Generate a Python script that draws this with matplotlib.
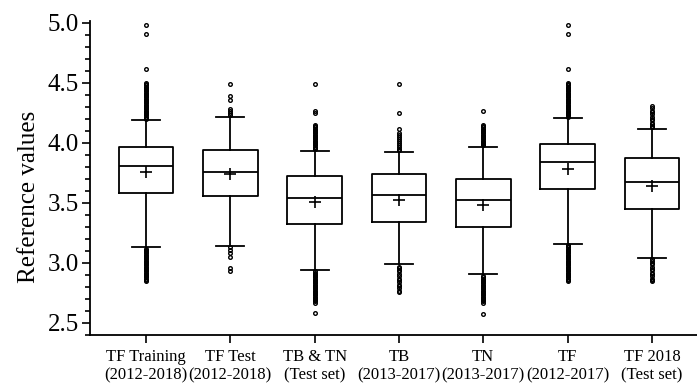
import numpy as np
import matplotlib
matplotlib.use("Agg")
import matplotlib.pyplot as plt
from matplotlib.ticker import MultipleLocator

plt.rcParams['font.family'] = ['Liberation Serif', 'DejaVu Serif']

labels = ['TF Training\n(2012-2018)', 'TF Test\n(2012-2018)', 'TB & TN\n(Test set)',
          'TB\n(2013-2017)', 'TN\n(2013-2017)', 'TF\n(2012-2017)', 'TF 2018\n(Test set)']

q1 = [3.580, 3.555, 3.328, 3.340, 3.302, 3.620, 3.453]
med = [3.805, 3.757, 3.544, 3.564, 3.525, 3.839, 3.678]
q3 = [3.967, 3.940, 3.725, 3.739, 3.700, 3.990, 3.878]
means = [3.755, 3.745, 3.511, 3.522, 3.486, 3.786, 3.644]
whis_lo = [3.133, 3.142, 2.945, 2.990, 2.905, 3.161, 3.042]
whis_hi = [4.190, 4.213, 3.936, 3.927, 3.967, 4.205, 4.119]

# outliers (dense columns approximated point by point)
fliers_1 = [4.20, 4.21, 4.22, 4.23, 4.24, 4.25, 4.26, 4.27, 4.28, 4.29, 4.30, 4.31, 4.32,
            4.33, 4.34, 4.35, 4.36, 4.37, 4.38, 4.39, 4.40, 4.41, 4.42, 4.43, 4.44, 4.45,
            4.46, 4.47, 4.48, 4.49, 4.50, 4.62, 4.91, 4.98,
            3.12, 3.11, 3.10, 3.09, 3.08, 3.07, 3.06, 3.05, 3.04, 3.03, 3.02, 3.01, 3.00,
            2.99, 2.98, 2.97, 2.96, 2.95, 2.94, 2.93, 2.92, 2.91, 2.90, 2.89, 2.88, 2.87,
            2.86, 2.85]
fliers_2 = [4.23, 4.25, 4.27, 4.28, 4.36, 4.39, 4.49,
            3.13, 3.11, 3.08, 3.05, 2.96, 2.93]
fliers_3 = [3.95, 3.96, 3.97, 3.98, 3.99, 4.00, 4.01, 4.02, 4.03, 4.04, 4.05, 4.06, 4.07,
            4.08, 4.09, 4.10, 4.11, 4.12, 4.13, 4.14, 4.15, 4.25, 4.27, 4.49,
            2.93, 2.92, 2.91, 2.90, 2.89, 2.88, 2.87, 2.86, 2.85, 2.84, 2.83, 2.82, 2.81,
            2.80, 2.79, 2.78, 2.77, 2.76, 2.75, 2.74, 2.73, 2.72, 2.71, 2.70, 2.69, 2.68,
            2.67, 2.58]
fliers_4 = [3.94, 3.95, 3.97, 3.98, 4.00, 4.02, 4.03, 4.05, 4.07, 4.08, 4.12, 4.25, 4.49,
            2.97, 2.96, 2.94, 2.93, 2.91, 2.89, 2.87, 2.86, 2.84, 2.82, 2.81, 2.79, 2.77,
            2.76]
fliers_5 = [3.98, 3.99, 4.00, 4.01, 4.02, 4.03, 4.04, 4.05, 4.06, 4.07, 4.08, 4.09, 4.10,
            4.11, 4.12, 4.13, 4.14, 4.15, 4.27,
            2.89, 2.88, 2.87, 2.86, 2.85, 2.84, 2.83, 2.82, 2.81, 2.80, 2.79, 2.78, 2.77,
            2.76, 2.75, 2.74, 2.73, 2.72, 2.71, 2.70, 2.69, 2.68, 2.67, 2.575]
fliers_6 = [4.22, 4.23, 4.24, 4.25, 4.26, 4.27, 4.28, 4.29, 4.30, 4.31, 4.32, 4.33, 4.34,
            4.35, 4.36, 4.37, 4.38, 4.39, 4.40, 4.41, 4.42, 4.43, 4.44, 4.45, 4.46, 4.47,
            4.48, 4.49, 4.50, 4.62, 4.91, 4.98,
            3.15, 3.14, 3.13, 3.12, 3.11, 3.10, 3.09, 3.08, 3.07, 3.06, 3.05, 3.04, 3.03,
            3.02, 3.01, 3.00, 2.99, 2.98, 2.97, 2.96, 2.95, 2.94, 2.93, 2.92, 2.91, 2.90,
            2.89, 2.88, 2.87, 2.86, 2.85]
fliers_7 = [4.13, 4.14, 4.16, 4.17, 4.19, 4.20, 4.22, 4.24, 4.26, 4.27, 4.29, 4.31,
            3.03, 3.02, 3.00, 2.99, 2.97, 2.95, 2.94, 2.92, 2.91, 2.89, 2.87, 2.86, 2.85]
fliers = [fliers_1, fliers_2, fliers_3, fliers_4, fliers_5, fliers_6, fliers_7]

stats = []
for i in range(len(labels)):
    stats.append(dict(label=labels[i], q1=q1[i], med=med[i], q3=q3[i], mean=means[i],
                      whislo=whis_lo[i], whishi=whis_hi[i], fliers=fliers[i]))

fig = plt.figure(figsize=(6.97, 3.89), dpi=100)
ax = fig.add_axes([90 / 697, 54 / 389, 607 / 697, 314.4 / 389])

lw = 1.3
ax.bxp(stats, positions=np.arange(1, 8), widths=0.65, showmeans=True, showfliers=True,
       boxprops=dict(color='black', linewidth=lw),
       medianprops=dict(color='black', linewidth=lw),
       whiskerprops=dict(color='black', linewidth=lw),
       capprops=dict(color='black', linewidth=lw),
       capwidths=0.33,
       meanprops=dict(marker='+', markersize=9, markeredgecolor='black', markeredgewidth=1.2),
       flierprops=dict(marker='o', markersize=2.6, markerfacecolor='none',
                       markeredgecolor='black', markeredgewidth=1.0))

ax.set_xlim(0.336, 7.534)
ax.set_ylim(2.4, 5.02)
ax.yaxis.set_major_locator(MultipleLocator(0.5))
ax.yaxis.set_minor_locator(MultipleLocator(0.1))
ax.yaxis.set_major_formatter(plt.FormatStrFormatter('%.1f'))

for s in ['top', 'right']:
    ax.spines[s].set_visible(False)
for s in ['left', 'bottom']:
    ax.spines[s].set_linewidth(1.3)

ax.tick_params(axis='y', which='major', length=6, width=1.2, labelsize=18, pad=2)
ax.tick_params(axis='y', which='minor', length=3.5, width=1.2)
ax.tick_params(axis='x', which='major', length=6, width=1.2, labelsize=12, pad=4)
ax.set_ylabel('Reference values', fontsize=18)
ax.yaxis.set_label_coords(-0.082, 0.44)

fig.savefig('out.png', dpi=100)
